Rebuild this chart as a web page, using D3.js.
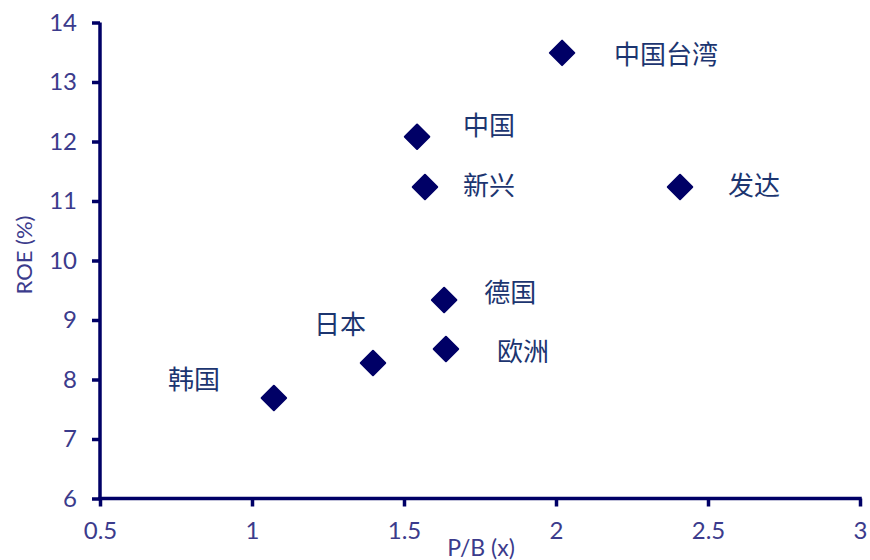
<!DOCTYPE html>
<html>
<head>
<meta charset="utf-8">
<script src="https://cdn.jsdelivr.net/npm/d3@7"></script>
<style>
  html, body { margin: 0; padding: 0; background: #fff; }
  svg { display: block; }
</style>
</head>
<body>
<svg id="chart" width="870" height="560"></svg>
<script>
// Market valuation vs. profitability
const markets = ["中国台湾", "中国", "新兴", "发达", "德国", "欧洲", "日本", "韩国"];
const pbValues = [2.02, 1.543, 1.569, 2.408, 1.632, 1.638, 1.398, 1.072];
const roeValues = [13.49, 12.08, 11.235, 11.235, 9.336, 8.513, 8.277, 7.689];
const xTicks = [0.5, 1, 1.5, 2, 2.5, 3];
const yTicks = [6, 7, 8, 9, 10, 11, 12, 13, 14];

// label placement relative to each marker (px)
const labelOffset = {
  "中国台湾": [52, 2],
  "中国": [46, -11],
  "新兴": [38, -1],
  "发达": [48, -1],
  "德国": [40, -7],
  "欧洲": [51, 3],
  "日本": [-59, -38],
  "韩国": [-106, -18]
};

const axisColor = "#000066";
const tickTextColor = "#3b3b8c";
const labelColor = "#1c3570";

const svg = d3.select("#chart");
const x = d3.scaleLinear().domain([0.5, 3]).range([100, 860]);
const y = d3.scaleLinear().domain([6, 14]).range([498.5, 22.5]);

const xAxis = svg.append("g")
  .attr("transform", `translate(0,${y(6)})`)
  .call(d3.axisBottom(x).tickValues(xTicks).tickSize(8).tickSizeOuter(0).tickPadding(15)
    .tickFormat(d3.format("")));
const yAxis = svg.append("g")
  .attr("transform", `translate(${x(0.5)},0)`)
  .call(d3.axisLeft(y).tickValues(yTicks).tickSize(8).tickSizeOuter(0).tickPadding(15)
    .tickFormat(d3.format("")));

[xAxis, yAxis].forEach(g => {
  g.select(".domain").attr("stroke", axisColor).attr("stroke-width", 3.5);
  g.selectAll(".tick line").attr("stroke", axisColor).attr("stroke-width", 3.5);
  g.selectAll(".tick text")
    .attr("fill", tickTextColor)
    .style("font-family", "Lato, 'Open Sans', sans-serif")
    .style("font-size", "24px");
});
// square off the corner where the two axes meet
xAxis.select(".domain").attr("d", `M${x(0.5) - 1.75},0H${x(3) + 1.75}`);
yAxis.select(".domain").attr("d", `M0,${y(14)}V${y(6)}`);

// axis titles
svg.append("text")
  .attr("x", 481).attr("y", 556)
  .attr("text-anchor", "middle")
  .attr("fill", tickTextColor)
  .style("font-family", "Lato, 'Open Sans', sans-serif")
  .style("font-size", "23px")
  .text("P/B (x)");
svg.append("text")
  .attr("transform", `translate(32,${255}) rotate(-90)`)
  .attr("text-anchor", "middle")
  .attr("fill", tickTextColor)
  .style("font-family", "Lato, 'Open Sans', sans-serif")
  .style("font-size", "22px")
  .text("ROE (%)");

// diamond markers
const diamond = d3.symbol().type(d3.symbolSquare).size(300);
const pts = markets.map((m, i) => ({ name: m, pb: pbValues[i], roe: roeValues[i] }));

svg.append("g").selectAll("path")
  .data(pts).join("path")
  .attr("d", diamond)
  .attr("transform", d => `translate(${x(d.pb)},${y(d.roe)}) rotate(45)`)
  .attr("fill", axisColor)
  .attr("stroke", axisColor)
  .attr("stroke-width", 2)
  .attr("stroke-linejoin", "round");

svg.append("g").selectAll("text")
  .data(pts).join("text")
  .attr("x", d => x(d.pb) + labelOffset[d.name][0])
  .attr("y", d => y(d.roe) + labelOffset[d.name][1])
  .attr("dy", "0.35em")
  .attr("fill", labelColor)
  .style("font-family", "'Noto Sans CJK SC', sans-serif")
  .style("font-size", "26px")
  .text(d => d.name);
</script>
</body>
</html>
